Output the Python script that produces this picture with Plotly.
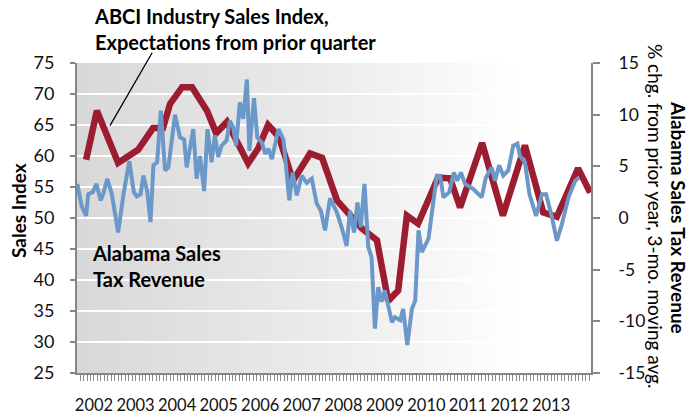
import base64
import plotly.graph_objects as go

# ABCI Industry Sales Index (left axis), x in decimal years
red_x = [2001.81, 2002.07, 2002.58, 2003.06, 2003.42, 2003.66, 2003.83, 2004.12, 2004.36,
         2004.72, 2004.94, 2005.20, 2005.71, 2005.95, 2006.19, 2006.45, 2006.79, 2007.20,
         2007.49, 2007.85, 2008.45, 2008.81, 2009.08, 2009.32, 2009.53, 2009.80, 2010.28,
         2010.57, 2010.81, 2011.34, 2011.84, 2012.37, 2012.81, 2013.14, 2013.65, 2013.94]
red_y = [59.4, 67.3, 58.9, 61.0, 64.5, 64.5, 68.4, 71.1, 71.1,
         67.3, 63.7, 65.5, 58.8, 61.2, 65.0, 63.1, 56.0, 60.4,
         59.7, 52.8, 48.3, 46.4, 36.6, 38.3, 50.4, 49.1, 56.5,
         56.4, 51.7, 62.1, 50.4, 61.7, 50.9, 50.2, 58.0, 54.1]

# Alabama Sales Tax Revenue, % chg (right axis)
blue_x = [2001.60, 2001.70, 2001.81, 2001.86, 2001.97, 2002.06, 2002.16, 2002.22, 2002.32, 2002.43,
          2002.58, 2002.71, 2002.85, 2002.96, 2003.03, 2003.12, 2003.19, 2003.28, 2003.36, 2003.43,
          2003.52, 2003.61, 2003.71, 2003.79, 2003.95, 2004.07, 2004.17, 2004.23, 2004.39, 2004.47,
          2004.55, 2004.65, 2004.73, 2004.83, 2004.91, 2004.99, 2005.07, 2005.19, 2005.27, 2005.35,
          2005.42, 2005.51, 2005.59, 2005.68, 2005.74, 2005.85, 2005.93, 2006.04, 2006.12, 2006.20,
          2006.28, 2006.44, 2006.56, 2006.70, 2006.78, 2006.88, 2007.00, 2007.12, 2007.24, 2007.36,
          2007.46, 2007.56, 2007.68, 2007.84, 2007.96, 2008.08, 2008.16, 2008.26, 2008.34, 2008.42,
          2008.51, 2008.56, 2008.60, 2008.68, 2008.76, 2008.84, 2008.92, 2009.00, 2009.17, 2009.24,
          2009.37, 2009.44, 2009.54, 2009.65, 2009.73, 2009.81, 2009.89, 2010.05, 2010.13, 2010.25,
          2010.33, 2010.41, 2010.55, 2010.66, 2010.74, 2010.83, 2010.93, 2011.13, 2011.33, 2011.43,
          2011.57, 2011.65, 2011.75, 2011.85, 2011.97, 2012.09, 2012.19, 2012.25, 2012.37, 2012.48,
          2012.64, 2012.78, 2012.88, 2013.02, 2013.14, 2013.26, 2013.42, 2013.58, 2013.67]
blue_y = [3.3, 1.2, 0.2, 2.3, 2.5, 3.3, 1.7, 2.3, 3.8, 2.3,
          -1.4, 2.3, 5.5, 2.5, 2.1, 2.3, 4.1, 2.6, -0.4, 5.1,
          5.4, 10.4, 4.6, 4.9, 10.0, 7.8, 7.6, 4.9, 8.6, 3.8,
          6.0, 2.6, 8.6, 5.4, 8.0, 5.9, 7.0, 7.5, 9.4, 8.8,
          7.0, 11.2, 9.6, 13.4, 6.5, 11.6, 7.8, 7.3, 6.2, 6.7,
          5.7, 8.6, 7.6, 1.7, 4.4, 2.2, 4.1, 3.4, 3.8, 1.4,
          0.7, -1.2, 1.9, 0.6, -0.9, -2.7, 0.7, -1.4, 1.5, -0.9,
          3.3, -0.6, -2.8, -3.8, -10.7, -6.7, -8.1, -7.0, -10.1, -9.6,
          -9.9, -8.8, -12.3, -8.8, -8.0, -1.2, -3.3, -2.0, 0.7, 4.1,
          4.1, 2.0, 2.5, 4.4, 3.6, 4.4, 3.3, 2.8, 2.0, 3.9,
          4.9, 3.6, 5.1, 4.1, 4.6, 7.0, 7.2, 6.0, 5.4, 2.3,
          0.2, 2.3, 2.3, 0.1, -2.2, -0.6, 2.0, 3.6, 3.9]

year_ticks = list(range(2002, 2014))
left_ticks = [25, 30, 35, 40, 45, 50, 55, 60, 65, 70, 75]
right_ticks = [-15, -10, -5, 0, 5, 10, 15]
right_ticktext = ["-15", "-10", "-5", "0", "5", "10", "15"]

FONT = "Lato"
AXC = "#868686"

fig = go.Figure()
fig.add_trace(go.Scatter(x=red_x, y=red_y, mode="lines", yaxis="y",
                         line=dict(color="#9c1c30", width=6.5), showlegend=False))
fig.add_trace(go.Scatter(x=blue_x, y=blue_y, mode="lines", yaxis="y2",
                         line=dict(color="#6b98c9", width=4), showlegend=False))

svg = ("<svg xmlns='http://www.w3.org/2000/svg' width='514' height='310' preserveAspectRatio='none'>"
       "<defs><linearGradient id='g' x1='0' y1='0' x2='1' y2='0'>"
       "<stop offset='0' stop-color='#d8d8d8'/><stop offset='0.5' stop-color='#ececec'/>"
       "<stop offset='0.86' stop-color='#ffffff'/></linearGradient></defs>"
       "<rect width='514' height='310' fill='url(#g)'/></svg>")
src = "data:image/svg+xml;base64," + base64.b64encode(svg.encode()).decode()
fig.add_layout_image(dict(source=src, xref="paper", yref="paper", x=0, y=1, sizex=1, sizey=1,
                          sizing="stretch", layer="below", xanchor="left", yanchor="top"))

tickfont = dict(family=FONT, size=18, color="#111111")
rtickfont = dict(family=FONT, size=17.5, color="#111111")
xtickfont = dict(family=FONT, size=16.5, color="#111111")

fig.update_layout(
    width=689, height=417,
    margin=dict(l=77, r=98, t=63, b=44),
    paper_bgcolor="white", plot_bgcolor="rgba(0,0,0,0)",
    xaxis=dict(range=[2001.591, 2013.961], tickmode="array", tickvals=year_ticks,
               ticktext=[str(y) for y in year_ticks], ticks="", showgrid=False, tickangle=0,
               showline=True, linecolor=AXC, linewidth=2, tickfont=xtickfont,
               ticklabelstandoff=16, zeroline=False, automargin=False,
               minor=dict(tickmode="linear", tick0=2002, dtick=1/12, ticks="outside",
                          ticklen=6, tickcolor=AXC, tickwidth=1, showgrid=False)),
    yaxis=dict(range=[25, 75], tickmode="array", tickvals=left_ticks, ticks="outside",
               ticklen=5, tickcolor=AXC, tickwidth=1.5, showline=True, linecolor=AXC,
               linewidth=2, showgrid=True, gridcolor="white", gridwidth=2, automargin=False,
               tickfont=tickfont, ticklabelstandoff=12, zeroline=False),
    yaxis2=dict(range=[-15, 15], tickmode="array", tickvals=right_ticks, ticktext=right_ticktext,
                overlaying="y", side="right", ticks="outside", ticklen=7, tickcolor=AXC,
                tickwidth=1.5, showline=True, linecolor=AXC, linewidth=2, showgrid=False,
                automargin=False, tickfont=rtickfont, ticklabelstandoff=15, zeroline=False),
)

bold = dict(family=FONT, size=20, color="black")
fig.add_annotation(text="<b>ABCI Industry Sales Index,<br>Expectations from prior quarter</b>",
                   xref="paper", yref="paper", x=(92 - 77) / 514, y=(373 - 29) / 310,
                   xanchor="left", yanchor="middle", align="left", showarrow=False, font=bold)
fig.add_annotation(text="<b>Alabama Sales<br>Tax Revenue</b>",
                   xref="paper", yref="paper", x=(90 - 77) / 514, y=(373 - 266) / 310,
                   xanchor="left", yanchor="middle", align="left", showarrow=False, font=bold)
fig.add_annotation(text="", x=2002.385, y=64.9, xref="x", yref="y",
                   ax=2003.42, ay=76.9, axref="x", ayref="y", showarrow=True,
                   arrowhead=0, arrowwidth=1.3, arrowcolor="black", standoff=0, startstandoff=0)
fig.add_annotation(text="<b>Sales Index</b>", xref="paper", yref="paper",
                   x=(18 - 77) / 514, y=(373 - 211) / 310, textangle=-90,
                   xanchor="center", yanchor="middle", showarrow=False,
                   font=dict(family=FONT, size=19, color="black"))
fig.add_annotation(text="% chg. from prior year, 3-mo. moving avg.", xref="paper", yref="paper",
                   x=(656 - 77) / 514, y=(373 - 216) / 310, textangle=90,
                   xanchor="center", yanchor="middle", showarrow=False,
                   font=dict(family=FONT, size=19, color="black"))
fig.add_annotation(text="<b>Alabama Sales Tax Revenue</b>", xref="paper", yref="paper",
                   x=(679 - 77) / 514, y=(373 - 217) / 310, textangle=90,
                   xanchor="center", yanchor="middle", showarrow=False,
                   font=dict(family=FONT, size=19, color="black"))

fig.write_html("out.html", config={"displayModeBar": False})

# remove the default page margin so the figure sits at the window's top-left corner
with open("out.html", "r", encoding="utf-8") as f:
    html = f.read()
html = html.replace("<head>", "<head><style>html,body{margin:0;padding:0;overflow:hidden}</style>", 1)
with open("out.html", "w", encoding="utf-8") as f:
    f.write(html)
